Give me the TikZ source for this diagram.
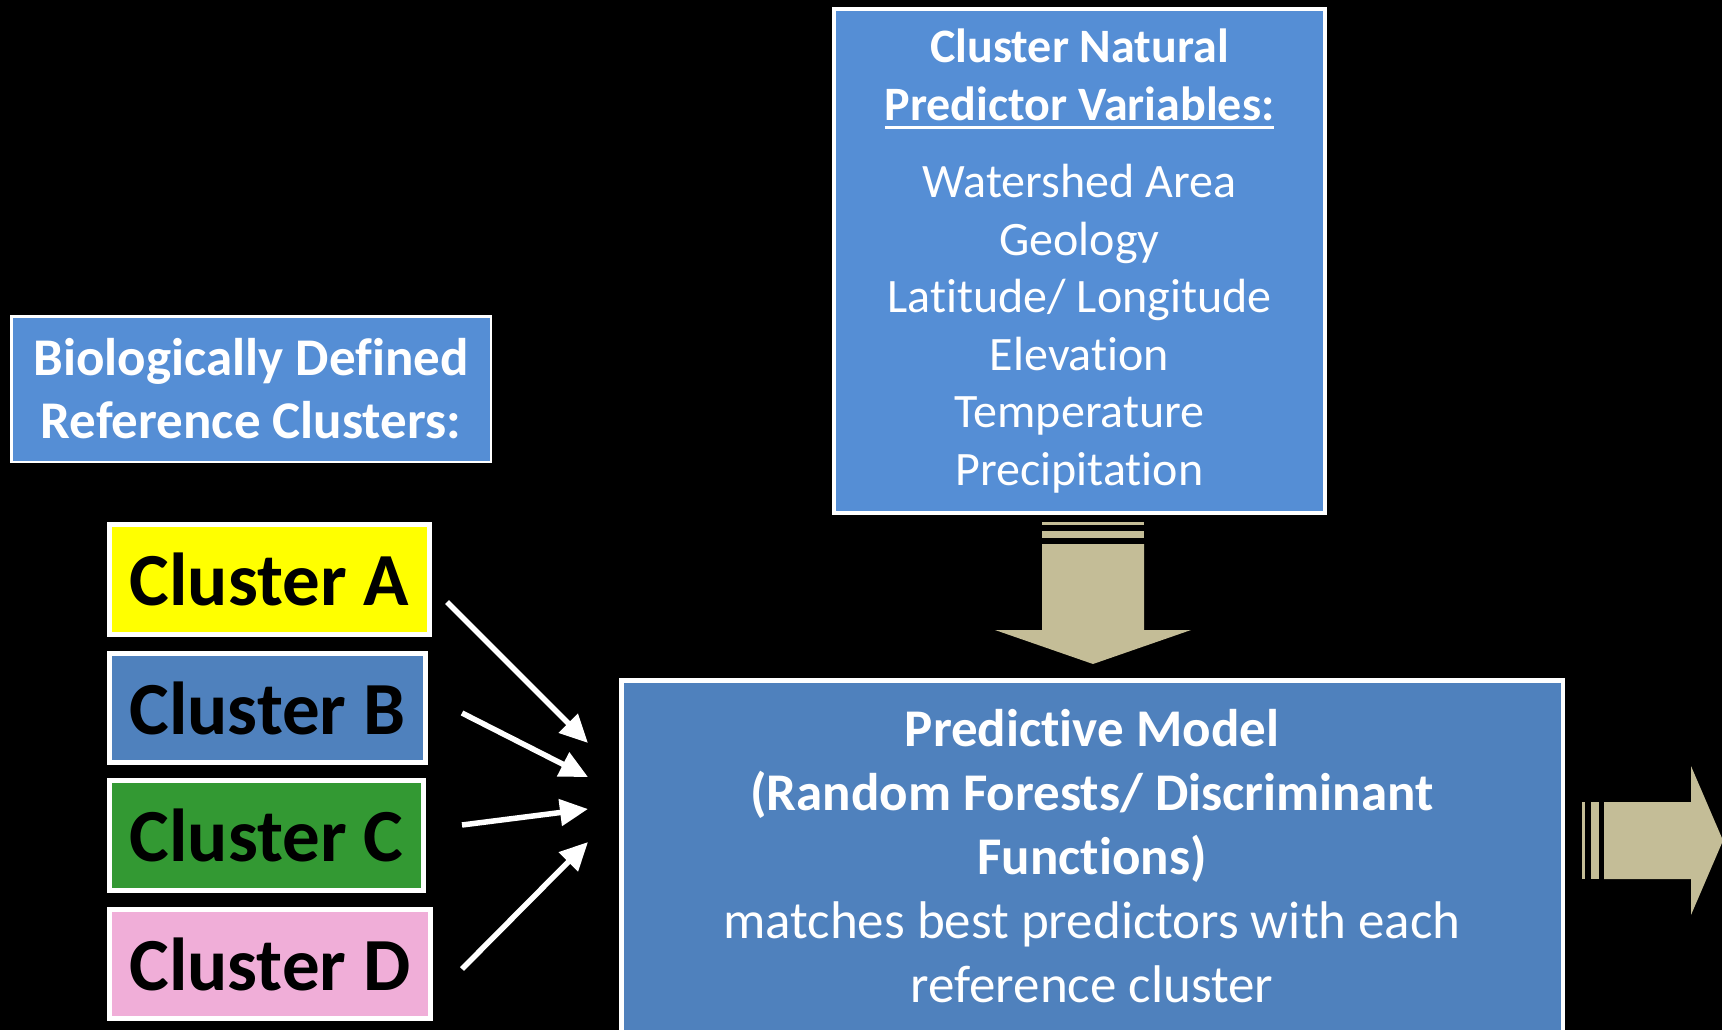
\documentclass[tikz,border=0pt]{standalone}
\usepackage{fontspec}
\setmainfont[Ligatures=NoCommon]{Carlito}
\usetikzlibrary{arrows.meta}

\definecolor{skyblue}{HTML}{558ED5}
\definecolor{steelblue}{HTML}{4F81BD}
\definecolor{clyellow}{HTML}{FFFF00}
\definecolor{clgreen}{HTML}{339933}
\definecolor{clpink}{HTML}{F0AED8}
\definecolor{tan}{HTML}{C4BD97}

% underline drawn as a rule sized to the text
\newcommand{\thickul}[1]{\setbox0\hbox{#1}\rlap{\rule[-9pt]{\wd0}{3pt}}\box0}

\tikzset{
  panel/.style={draw=white, text=white, inner sep=0pt, align=center},
  clusterbox/.style={draw=white, line width=5pt, inner sep=0pt, text=black,
    font=\fontsize{75}{90}\selectfont\bfseries},
  feed/.style={draw=white, line width=5.5pt,
    -{Triangle[length=28pt,width=26pt]}, shorten >=0pt},
  blockarrow/.style={fill=tan, draw=none}
}

\begin{document}
\begin{tikzpicture}[x=1pt, y=-1pt]
  \fill[black] (0,0) rectangle (1722,1030);
  \useasboundingbox (0,0) rectangle (1722,1030);
  \clip (0,0) rectangle (1722,1030);

  % heading for the cluster list
  \node[panel, fill=skyblue, line width=2.5pt, minimum width=479.5, minimum height=145.5,
        font=\fontsize{53}{63}\selectfont\bfseries] (bio) at (251,389)
    {Biologically Defined\\Reference Clusters:};

  % the four reference clusters
  \node[clusterbox, fill=clyellow, minimum width=320, minimum height=110] (clA) at (269.5,579.5) {Cluster A};
  \node[clusterbox, fill=steelblue, minimum width=316, minimum height=109] (clB) at (267.5,708) {Cluster B};
  \node[clusterbox, fill=clgreen, minimum width=314, minimum height=110] (clC) at (266.5,835.5) {Cluster C};
  \node[clusterbox, fill=clpink, minimum width=321, minimum height=109] (clD) at (270,964) {Cluster D};

  % predictor variables
  \node[panel, fill=skyblue, line width=4pt, minimum width=491, minimum height=504,
        font=\fontsize{48}{57.5}\selectfont] (pred) at (1079.5,261)
    {{\fontsize{48}{57}\selectfont\bfseries Cluster Natural}\\
     {\fontsize{48}{57}\selectfont\bfseries \thickul{Predictor Variables:}}\\[20pt]
     Watershed Area\\Geology\\Latitude/ Longitude\\Elevation\\Temperature\\Precipitation};

  % predictive model: box and its text
  \node[draw=white, fill=steelblue, line width=4.5pt, inner sep=0pt,
        minimum width=941.5, minimum height=363.5] (model) at (1092,862) {};
  \node[text=white, align=center, inner sep=0pt,
        font=\fontsize{53}{64}\selectfont] (modeltext) at (1092,856.5)
    {{\bfseries Predictive Model}\\
     {\bfseries (Random Forests/ Discriminant}\\
     {\bfseries Functions)}\\
     matches best predictors with each\\
     reference cluster};

  % arrows from the clusters into the model
  \coordinate (a0) at (447,602);  \coordinate (a1) at (588,743);
  \coordinate (b0) at (462,713);  \coordinate (b1) at (588,777);
  \coordinate (c0) at (462,825);  \coordinate (c1) at (588,809);
  \coordinate (d0) at (462,969);  \coordinate (d1) at (588,842);
  \draw[feed] (a0) -- (a1);
  \draw[feed] (b0) -- (b1);
  \draw[feed] (c0) -- (c1);
  \draw[feed] (d0) -- (d1);

  % striped block arrow from the predictors down to the model
  \fill[blockarrow] (1042,522) rectangle (1144,525);
  \fill[blockarrow] (1042,531) rectangle (1144,538);
  \fill[blockarrow] (1042,544) -- (1144,544) -- (1144,630) -- (1191,630)
    -- (1093,664) -- (995,630) -- (1042,630) -- cycle;

  % striped block arrow leaving the model
  \fill[blockarrow] (1582,802) rectangle (1585,879);
  \fill[blockarrow] (1591,802) rectangle (1599,879);
  \fill[blockarrow] (1604,802) -- (1691,802) -- (1691,766) -- (1723,840.5)
    -- (1691,915) -- (1691,879) -- (1604,879) -- cycle;
\end{tikzpicture}
\end{document}
